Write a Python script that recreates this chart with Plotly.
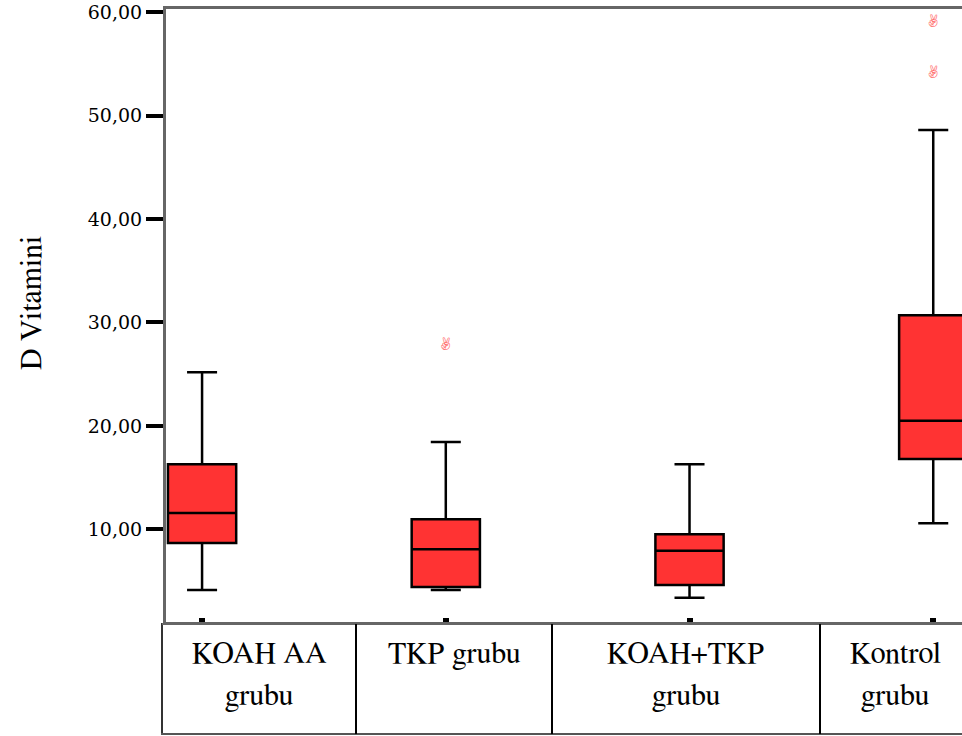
import plotly.graph_objects as go

# ---- data ----
categories = ["KOAH AA grubu", "TKP grubu", "KOAH+TKP grubu", "Kontrol grubu"]
label_line1 = ["KOAH AA", "TKP grubu", "KOAH+TKP", "Kontrol"]
label_line2 = ["grubu", "", "grubu", "grubu"]
lower_whisker = [4.15, 4.15, 3.41, 10.6]
q1_vals = [8.7, 4.44, 4.64, 16.8]
median_vals = [11.6, 8.1, 7.95, 20.5]
q3_vals = [16.3, 11.0, 9.54, 30.7]
upper_whisker = [25.2, 18.45, 16.3, 48.6]
outlier_group = [1, 3, 3]
outlier_vals = [27.8, 54.1, 59.0]
y_tickvals = [10, 20, 30, 40, 50, 60]
y_ticktext = ["10,00", "20,00", "30,00", "40,00", "50,00", "60,00"]

SERIF = "FreeSerif, Liberation Serif, Times New Roman, serif"

W, H = 962, 736
ML, MR, MT, MB = 166, 0, 9, 114
PW = W - ML - MR
PH = H - MT - MB


def px(xp):
    return (xp - ML) / PW


def py(yp):
    return (H - MB - yp) / PH


fig = go.Figure()
for i, c in enumerate(categories):
    fig.add_trace(go.Box(
        x=[i], q1=[q1_vals[i]], median=[median_vals[i]], q3=[q3_vals[i]],
        lowerfence=[lower_whisker[i]], upperfence=[upper_whisker[i]],
        name=c, fillcolor="#ff3333", line=dict(color="black", width=2.5),
        width=0.28, whiskerwidth=0.44, boxpoints=False, showlegend=False,
        hoverinfo="y",
    ))

fig.add_trace(go.Scatter(
    x=outlier_group, y=outlier_vals, mode="text",
    text=["\u270c\ufe0e"] * len(outlier_vals),
    textfont=dict(family="FreeSerif", size=18, color="#ff6f6f"),
    textposition="middle center", showlegend=False, hoverinfo="y",
))

annotations = []
for i in range(len(categories)):
    cx = [259, 454, 686, 895][i]
    annotations.append(dict(xref="paper", yref="paper", x=px(cx), y=py(654),
                            text=label_line1[i], showarrow=False,
                            xanchor="center", yanchor="middle",
                            font=dict(family=SERIF, size=30, color="black")))
    if label_line2[i]:
        annotations.append(dict(xref="paper", yref="paper", x=px(cx), y=py(696),
                                text=label_line2[i], showarrow=False,
                                xanchor="center", yanchor="middle",
                                font=dict(family=SERIF, size=30, color="black")))
annotations.append(dict(xref="paper", yref="paper", x=px(32), y=py(303),
                        text="D Vitamini", textangle=-90, showarrow=False,
                        xanchor="center", yanchor="middle",
                        font=dict(family=SERIF, size=30, color="black")))

shapes = []
shapes.append(dict(type="line", xref="paper", yref="paper", x0=px(162), x1=px(162),
                   y0=py(623), y1=py(735), line=dict(color="#333", width=2)))
shapes.append(dict(type="line", xref="paper", yref="paper", x0=px(161), x1=px(975),
                   y0=py(734), y1=py(734), line=dict(color="#555", width=2)))
shapes.append(dict(type="line", xref="paper", yref="paper", x0=px(162), x1=px(975),
                   y0=py(624), y1=py(624), line=dict(color="#666", width=2)))
for xd in [356, 552, 820]:
    shapes.append(dict(type="line", xref="paper", yref="paper", x0=px(xd), x1=px(xd),
                       y0=py(624), y1=py(734), line=dict(color="black", width=2)))

fig.update_layout(
    width=W, height=H,
    margin=dict(l=ML, r=MR, t=MT, b=MB, pad=0),
    paper_bgcolor="white", plot_bgcolor="white",
    showlegend=False,
    annotations=annotations, shapes=shapes,
    xaxis=dict(range=[-0.148, 3.118], tickvals=list(range(len(categories))),
               ticktext=[""] * len(categories), showgrid=False, zeroline=False,
               showline=True, linecolor="#666", linewidth=3, mirror=True,
               ticks="inside", ticklen=4, tickwidth=6, tickcolor="black"),
    yaxis=dict(range=[1.06, 60.29], tickvals=y_tickvals, ticktext=y_ticktext,
               showgrid=False, zeroline=False, showline=True, linecolor="#666",
               linewidth=3, ticks="outside", ticklen=17, tickwidth=4,
               tickcolor="black",
               tickfont=dict(family="DejaVu Serif", size=19, color="black")),
)

fig.write_html("out.html")
